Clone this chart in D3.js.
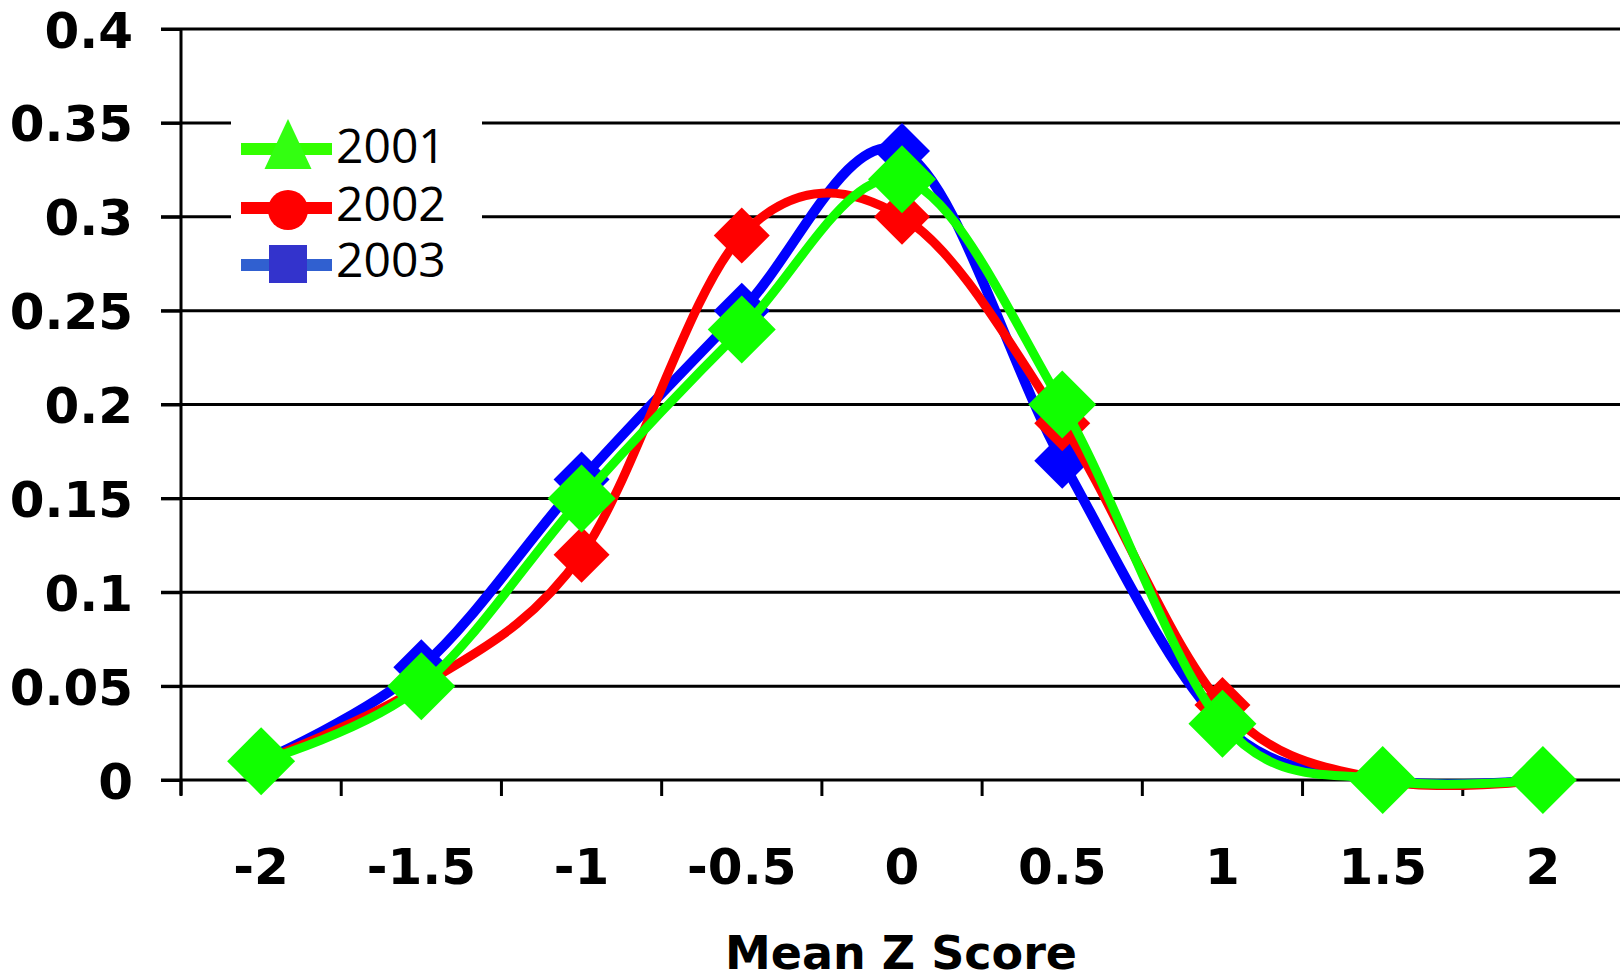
<!DOCTYPE html>
<html>
<head>
<meta charset="utf-8">
<script src="https://cdn.jsdelivr.net/npm/d3@7"></script>
<style>
  html, body { margin: 0; padding: 0; background: #fff; overflow: hidden; }
  svg { display: block; }
</style>
</head>
<body>
<svg id="chart" width="1620" height="974"></svg>
<script>
// ---- Data ----
const categories = ["-2", "-1.5", "-1", "-0.5", "0", "0.5", "1", "1.5", "2"];
const yTickValues = [0, 0.05, 0.1, 0.15, 0.2, 0.25, 0.3, 0.35, 0.4];
const yTickLabels = ["0", "0.05", "0.1", "0.15", "0.2", "0.25", "0.3", "0.35", "0.4"];
const seriesNames = ["2001", "2002", "2003"];
const values2001 = [0.01, 0.05, 0.15, 0.24, 0.32, 0.20, 0.03, 0.0, 0.0];
const values2002 = [0.01, 0.05, 0.12, 0.29, 0.30, 0.19, 0.04, 0.0, 0.0];
const values2003 = [0.01, 0.06, 0.16, 0.25, 0.335, 0.17, 0.03, 0.0, 0.0];
const xTitle = "Mean Z Score";

// ---- Layout ----
const svg = d3.select("#chart");
const plotLeft = 181, plotRight = 1623, plotTop = 29, plotBottom = 780;
const x = d3.scaleBand().domain(categories).range([plotLeft, plotRight]).paddingInner(0).paddingOuter(0);
const y = d3.scaleLinear().domain([0, 0.4]).range([plotBottom, plotTop]);
const tickFont = "'DejaVu Sans', sans-serif";

// gridlines
svg.append("g").selectAll("line").data(yTickValues).join("line")
  .attr("x1", plotLeft - 20).attr("x2", 1620)
  .attr("y1", d => y(d)).attr("y2", d => y(d))
  .attr("stroke", "#000").attr("stroke-width", 3);

// y axis
const yAxis = d3.axisLeft(y).tickValues(yTickValues).tickSize(20)
  .tickFormat((d, i) => yTickLabels[i]);
const gy = svg.append("g").attr("transform", `translate(${plotLeft},0)`).call(yAxis);
gy.select(".domain").attr("stroke", "#000").attr("stroke-width", 3)
  .attr("d", `M0,${plotTop}V${plotBottom + 15}`);
gy.selectAll(".tick line").attr("stroke", "#000").attr("stroke-width", 3);
gy.selectAll(".tick text")
  .attr("x", -48).attr("dy", "0.36em")
  .style("font-family", tickFont).style("font-weight", "bold").style("font-size", "50px")
  .attr("fill", "#000");

// x axis (category labels) with boundary ticks
const xAxis = d3.axisBottom(x).tickSize(0).tickPadding(0);
const gx = svg.append("g").attr("transform", `translate(0,${plotBottom})`).call(xAxis);
gx.select(".domain").remove();
gx.selectAll(".tick text")
  .attr("y", 104).attr("dy", 0)
  .style("font-family", tickFont).style("font-weight", "bold").style("font-size", "50px")
  .attr("fill", "#000");
const boundaries = categories.map(c => x(c)).concat([x(categories[categories.length - 1]) + x.bandwidth()]);
svg.append("g").selectAll("line").data(boundaries).join("line")
  .attr("x1", d => d).attr("x2", d => d)
  .attr("y1", plotBottom).attr("y2", plotBottom + 16)
  .attr("stroke", "#000").attr("stroke-width", 3);

// x title
svg.append("text").attr("x", 901).attr("y", 969).attr("text-anchor", "middle")
  .style("font-family", tickFont).style("font-weight", "bold").style("font-size", "46px")
  .text(xTitle);

// ---- Series ----
const curve = d3.curveCardinal.tension(0);
const line = d3.line().x((d, i) => x(categories[i]) + x.bandwidth() / 2).y(d => y(d)).curve(curve);
const diamond = (r) => `M0,${-r}L${r},0L0,${r}L${-r},0Z`;

const drawOrder = [
  { values: values2003, color: "#0000ff", width: 10, r: 28 },
  { values: values2002, color: "#ff0000", width: 9, r: 28 },
  { values: values2001, color: "#11ff00", width: 9, r: 34 }
];
drawOrder.forEach(s => {
  const g = svg.append("g");
  g.append("path").attr("d", line(s.values)).attr("fill", "none")
    .attr("stroke", s.color).attr("stroke-width", s.width).attr("stroke-linejoin", "round");
  g.selectAll("path.m").data(s.values).join("path").attr("class", "m")
    .attr("transform", (d, i) => `translate(${x(categories[i]) + x.bandwidth() / 2},${y(d)})`)
    .attr("d", diamond(s.r)).attr("fill", s.color);
});

// ---- Legend ----
const lg = svg.append("g");
lg.append("rect").attr("x", 231).attr("y", 100).attr("width", 251).attr("height", 196).attr("fill", "#fff");
const legendItems = [
  { name: seriesNames[0], line: "#33ff00", mark: "#33ff11", shape: "tri", cy: 149, base: 163 },
  { name: seriesNames[1], line: "#ff0000", mark: "#ff0000", shape: "circ", cy: 208, base: 221 },
  { name: seriesNames[2], line: "#3060d0", mark: "#3333cc", shape: "sq", cy: 265, base: 277 }
];
legendItems.forEach(it => {
  lg.append("line").attr("x1", 241).attr("x2", 332).attr("y1", it.cy).attr("y2", it.cy)
    .attr("stroke", it.line).attr("stroke-width", 12);
  if (it.shape === "tri") {
    lg.append("path").attr("d", `M288,119L311.5,169L264.5,169Z`).attr("fill", it.mark);
  } else if (it.shape === "circ") {
    lg.append("circle").attr("cx", 288).attr("cy", 210).attr("r", 20).attr("fill", it.mark);
  } else {
    lg.append("rect").attr("x", 269).attr("y", 245).attr("width", 38).attr("height", 38).attr("fill", it.mark);
  }
  lg.append("text").attr("x", 336).attr("y", it.base)
    .style("font-family", "'Open Sans', sans-serif").style("font-size", "48px")
    .attr("fill", "#000").text(it.name);
});
</script>
</body>
</html>
